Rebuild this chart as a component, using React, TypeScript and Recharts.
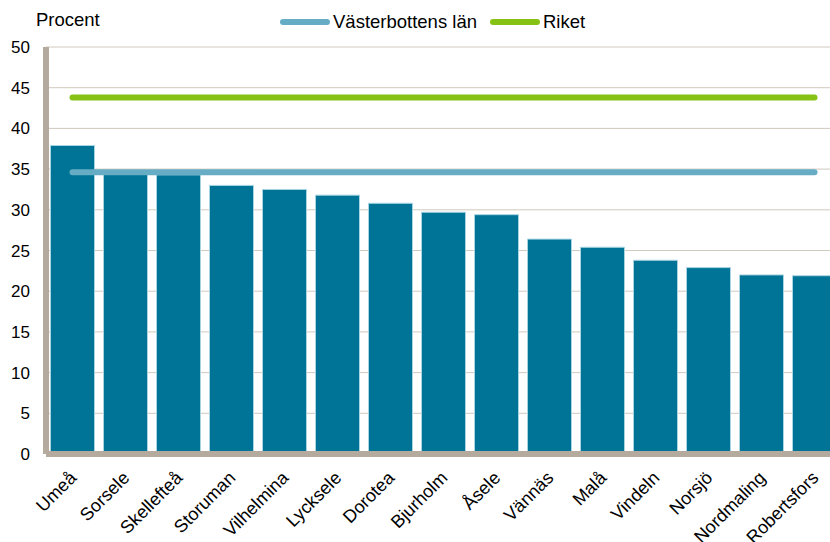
import {
    ComposedChart,
    Bar,
    Line,
    XAxis,
    YAxis,
    CartesianGrid
} from "recharts";

// ==============================
// DATA
// ==============================
const kommuner = [
    "Umeå", "Sorsele", "Skellefteå", "Storuman", "Vilhelmina",
    "Lycksele", "Dorotea", "Bjurholm", "Åsele", "Vännäs",
    "Malå", "Vindeln", "Norsjö", "Nordmaling", "Robertsfors"
];

const andel = [
    37.9, 34.4, 34.3, 33.0, 32.5,
    31.8, 30.8, 29.7, 29.4, 26.4,
    25.4, 23.8, 22.9, 22.0, 21.9
];

const vasterbottensLan = 34.6;
const riket = 43.8;

const yTicks = [0, 5, 10, 15, 20, 25, 30, 35, 40, 45, 50];

const chartData = kommuner.map((name, i) => ({
    name,
    andel: andel[i],
    lan: vasterbottensLan,
    riket
}));

const FONT = "'Liberation Sans', Arial, sans-serif";
const BAR = "#007496";
const LAN = "#66acc4";
const RIKET = "#86c214";
const WALL = "#b4ab9e";
const GRID = "#d0c9be";

function XTick({ x, y, payload }: any) {
    return (
        <text
            x={x + 5}
            y={y + 25}
            transform={`rotate(-45 ${x + 5} ${y + 25})`}
            textAnchor="end"
            fontSize={18}
            fontFamily={FONT}
            fill="#000"
        >
            {payload.value}
        </text>
    );
}

function LegendItem({ color, label, left }: { color: string; label: string; left: number }) {
    return (
        <div style={{ position: "absolute", left, top: 10, display: "flex", alignItems: "center" }}>
            <div style={{ width: 50, height: 6, borderRadius: 3, background: color }} />
            <span style={{ marginLeft: 3, fontSize: 18.5, lineHeight: "24px" }}>{label}</span>
        </div>
    );
}

export default function App() {
    return (
        <div
            style={{
                position: "absolute",
                left: 0,
                top: 0,
                width: 830,
                height: 542,
                overflow: "hidden",
                background: "#fff",
                fontFamily: FONT,
                color: "#000"
            }}
        >
            {/* TITLE + LEGEND */}
            <div style={{ position: "absolute", left: 36, top: 8, fontSize: 18.5, lineHeight: "24px" }}>
                Procent
            </div>
            <LegendItem color={LAN} label="Västerbottens län" left={280} />
            <LegendItem color={RIKET} label="Riket" left={490} />

            <ComposedChart
                width={841}
                height={542}
                data={chartData}
                margin={{ top: 47, right: 0, left: 0, bottom: 0 }}
                barCategoryGap="8.5%"
            >
                <CartesianGrid stroke={GRID} vertical={false} />

                <XAxis
                    dataKey="name"
                    interval={0}
                    height={88}
                    tickLine={false}
                    tickSize={0}
                    tickMargin={0}
                    axisLine={{ stroke: WALL, strokeWidth: 6 }}
                    tick={<XTick />}
                />

                <YAxis
                    width={46}
                    domain={[0, 50]}
                    ticks={yTicks}
                    interval={0}
                    tickLine={false}
                    tickSize={0}
                    tickMargin={16}
                    axisLine={{ stroke: WALL, strokeWidth: 6 }}
                    tick={{ fontSize: 17, fontFamily: FONT, fill: "#000" }}
                />

                <Bar
                    dataKey="andel"
                    fill={BAR}
                    stroke="#a9d5e3"
                    strokeWidth={1}
                    isAnimationActive={false}
                />

                <Line
                    dataKey="lan"
                    stroke={LAN}
                    strokeWidth={6}
                    strokeLinecap="round"
                    dot={false}
                    activeDot={false}
                    isAnimationActive={false}
                />

                <Line
                    dataKey="riket"
                    stroke={RIKET}
                    strokeWidth={6}
                    strokeLinecap="round"
                    dot={false}
                    activeDot={false}
                    isAnimationActive={false}
                />
            </ComposedChart>
        </div>
    );
}
